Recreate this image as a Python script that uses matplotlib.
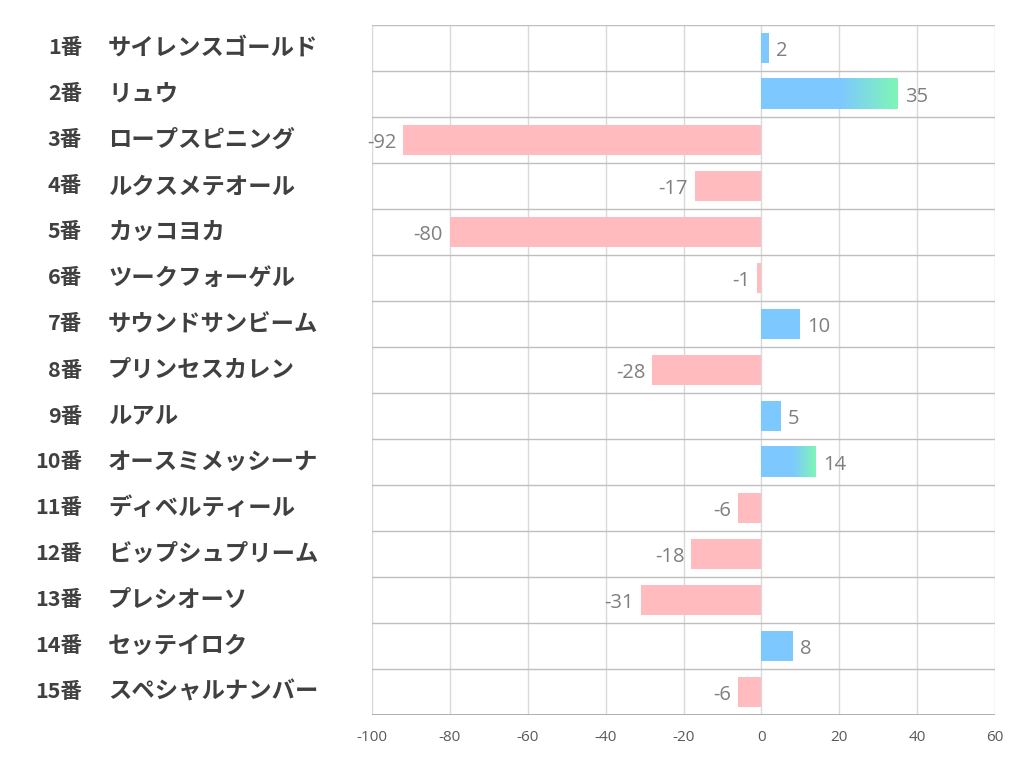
import numpy as np
import matplotlib
matplotlib.use("Agg")
import matplotlib.pyplot as plt
from matplotlib.colors import LinearSegmentedColormap

plt.rcParams['font.family'] = ['Noto Sans CJK JP', 'DejaVu Sans']

# データ
numbers = ["1番", "2番", "3番", "4番", "5番", "6番", "7番", "8番", "9番", "10番",
           "11番", "12番", "13番", "14番", "15番"]
names = ["サイレンスゴールド", "リュウ", "ロープスピニング", "ルクスメテオール", "カッコヨカ",
         "ツークフォーゲル", "サウンドサンビーム", "プリンセスカレン", "ルアル", "オースミメッシーナ",
         "ディベルティール", "ビップシュプリーム", "プレシオーソ", "セッテイロク", "スペシャルナンバー"]
values = [2, 35, -92, -17, -80, -1, 10, -28, 5, 14, -6, -18, -31, 8, -6]
highlight = [False, True, False, False, False, False, False, False, False, True,
             False, False, False, False, False]
xticks = [-100, -80, -60, -40, -20, 0, 20, 40, 60]

blue = "#7DC9FF"
green = "#7FF6B6"
pink = "#FFBBBE"
grad = LinearSegmentedColormap.from_list("g", [(0, blue), (0.58, blue), (1, green)])

fig = plt.figure(figsize=(10.22, 7.82), dpi=100)
ax = fig.add_axes([0.364, 0.0857, 0.6096, 0.8823])

n = len(values)
bh = 0.66
for i, v in enumerate(values):
    y = i
    if v >= 0:
        if highlight[i]:
            g = np.linspace(0, 1, 256).reshape(1, -1)
            ax.imshow(g, cmap=grad, aspect='auto', extent=[0, v, y + bh / 2, y - bh / 2],
                      zorder=3, interpolation='bilinear')
        else:
            ax.barh(y, v, height=bh, color=blue, zorder=3)
        ax.text(v + 1.8, y + 0.06, str(v), ha='left', va='center', fontsize=14.5,
                color="#7f7f7f", family=['Open Sans', 'DejaVu Sans'])
    else:
        ax.barh(y, v, height=bh, color=pink, zorder=3)
        ax.text(v - 1.8, y + 0.06, str(v), ha='right', va='center', fontsize=14.5,
                color="#7f7f7f", family=['Open Sans', 'DejaVu Sans'])

ax.set_xlim(-100, 60)
ax.set_ylim(n - 0.5, -0.5)

# グリッド
for x in xticks:
    ax.axvline(x, color="#d9d9d9", lw=1, zorder=1)
for k in range(n + 1):
    ax.axhline(k - 0.5, color="#bfbfbf", lw=1, zorder=2)

for s in ax.spines.values():
    s.set_visible(False)
ax.axhline(n - 0.5, color="#a6a6a6", lw=1.2, zorder=4)

ax.set_xticks(xticks)
ax.set_xticklabels([str(t) for t in xticks], fontsize=11, color="#595959",
                   family=['Open Sans', 'DejaVu Sans'])
ax.tick_params(axis='x', length=0, pad=11)
ax.set_yticks([])

# 馬番・馬名
for i in range(n):
    yf = 1 - (25 + 46 * (i + 0.5)) / 782
    fig.text(82 / 1022, yf, numbers[i], ha='right', va='center', fontsize=15.5,
             fontweight='bold', color="#404040")
    fig.text(108 / 1022, yf, names[i], ha='left', va='center', fontsize=16.8,
             fontweight='bold', color="#404040")

fig.savefig("out.png", dpi=100, facecolor="white")
